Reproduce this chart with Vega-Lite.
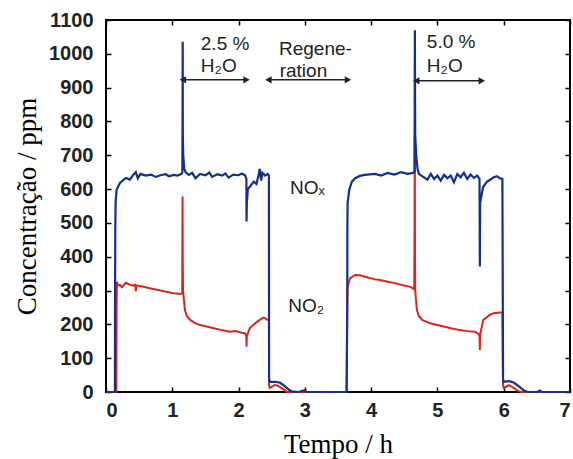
{
  "$schema": "https://vega.github.io/schema/vega-lite/v6.json",
  "width": 464,
  "height": 372,
  "autosize": {"type": "none"},
  "padding": {"left": 106, "top": 20, "right": 3, "bottom": 67},
  "background": "white",
  "config": {
    "view": {"stroke": "black", "strokeWidth": 2},
    "axis": {"domain": false, "grid": false, "tickColor": "black", "tickSize": -5, "tickWidth": 1.5,
      "labelFont": "Liberation Sans", "labelFontWeight": "bold", "labelFontSize": 20, "labelColor": "#222",
      "titleFont": "Liberation Serif", "titleFontWeight": "normal", "titleFontSize": 27, "titleColor": "black"}
  },
  "datasets": {
    "nox": [
      {"t": 0, "v": 0}, {"t": 0.135, "v": 0}, {"t": 0.136, "v": 250}, {"t": 0.14, "v": 480}, {"t": 0.145, "v": 560},
      {"t": 0.16, "v": 598}, {"t": 0.21, "v": 618}, {"t": 0.3, "v": 633}, {"t": 0.36, "v": 628}, {"t": 0.41, "v": 642},
      {"t": 0.45, "v": 650}, {"t": 0.48, "v": 632}, {"t": 0.52, "v": 645}, {"t": 0.6, "v": 640}, {"t": 0.68, "v": 643},
      {"t": 0.75, "v": 636}, {"t": 0.82, "v": 641}, {"t": 0.9, "v": 644}, {"t": 0.95, "v": 638}, {"t": 1.02, "v": 642},
      {"t": 1.08, "v": 640}, {"t": 1.14, "v": 645}, {"t": 1.152, "v": 650}, {"t": 1.155, "v": 800}, {"t": 1.157, "v": 1036},
      {"t": 1.159, "v": 760}, {"t": 1.165, "v": 700}, {"t": 1.18, "v": 660}, {"t": 1.2, "v": 650}, {"t": 1.25, "v": 642},
      {"t": 1.3, "v": 648}, {"t": 1.35, "v": 632}, {"t": 1.42, "v": 645}, {"t": 1.5, "v": 641}, {"t": 1.56, "v": 649},
      {"t": 1.6, "v": 636}, {"t": 1.68, "v": 644}, {"t": 1.75, "v": 640}, {"t": 1.8, "v": 646}, {"t": 1.85, "v": 634},
      {"t": 1.92, "v": 643}, {"t": 2.0, "v": 641}, {"t": 2.05, "v": 646}, {"t": 2.1, "v": 640}, {"t": 2.118, "v": 630},
      {"t": 2.12, "v": 504}, {"t": 2.125, "v": 560}, {"t": 2.14, "v": 600}, {"t": 2.17, "v": 607}, {"t": 2.23, "v": 622},
      {"t": 2.27, "v": 615}, {"t": 2.3, "v": 640}, {"t": 2.32, "v": 660}, {"t": 2.34, "v": 625}, {"t": 2.36, "v": 648},
      {"t": 2.4, "v": 640}, {"t": 2.44, "v": 645}, {"t": 2.458, "v": 640}, {"t": 2.46, "v": 40}, {"t": 2.47, "v": 30},
      {"t": 2.55, "v": 30}, {"t": 2.62, "v": 28}, {"t": 2.68, "v": 20}, {"t": 2.75, "v": 8}, {"t": 2.8, "v": 2},
      {"t": 2.9, "v": 0}, {"t": 3.0, "v": 5}, {"t": 3.02, "v": 0}, {"t": 3.63, "v": 0}, {"t": 3.64, "v": 263},
      {"t": 3.641, "v": 480}, {"t": 3.645, "v": 559}, {"t": 3.67, "v": 598}, {"t": 3.71, "v": 622}, {"t": 3.76, "v": 632},
      {"t": 3.83, "v": 639}, {"t": 3.9, "v": 642}, {"t": 4.06, "v": 645}, {"t": 4.15, "v": 640}, {"t": 4.25, "v": 648},
      {"t": 4.35, "v": 643}, {"t": 4.45, "v": 650}, {"t": 4.55, "v": 645}, {"t": 4.63, "v": 648}, {"t": 4.655, "v": 650},
      {"t": 4.658, "v": 910}, {"t": 4.66, "v": 1070}, {"t": 4.662, "v": 900}, {"t": 4.665, "v": 760}, {"t": 4.68, "v": 700},
      {"t": 4.7, "v": 660}, {"t": 4.72, "v": 645}, {"t": 4.78, "v": 637}, {"t": 4.85, "v": 628}, {"t": 4.9, "v": 645},
      {"t": 4.95, "v": 630}, {"t": 5.0, "v": 640}, {"t": 5.05, "v": 625}, {"t": 5.1, "v": 642}, {"t": 5.15, "v": 632},
      {"t": 5.2, "v": 640}, {"t": 5.25, "v": 620}, {"t": 5.3, "v": 645}, {"t": 5.35, "v": 635}, {"t": 5.4, "v": 648},
      {"t": 5.45, "v": 630}, {"t": 5.5, "v": 643}, {"t": 5.55, "v": 633}, {"t": 5.6, "v": 640}, {"t": 5.635, "v": 630},
      {"t": 5.64, "v": 371}, {"t": 5.645, "v": 560}, {"t": 5.69, "v": 607}, {"t": 5.75, "v": 622}, {"t": 5.79, "v": 627},
      {"t": 5.85, "v": 635}, {"t": 5.9, "v": 638}, {"t": 5.94, "v": 632}, {"t": 5.98, "v": 630}, {"t": 5.99, "v": 40},
      {"t": 6.0, "v": 30}, {"t": 6.08, "v": 32}, {"t": 6.15, "v": 28}, {"t": 6.22, "v": 18}, {"t": 6.3, "v": 5},
      {"t": 6.36, "v": 0}, {"t": 6.5, "v": 0}, {"t": 6.55, "v": 4}, {"t": 6.57, "v": 0}, {"t": 7.0, "v": 0}
    ],
    "no2": [
      {"t": 0, "v": 0}, {"t": 0.155, "v": 0}, {"t": 0.16, "v": 252}, {"t": 0.165, "v": 326}, {"t": 0.18, "v": 315},
      {"t": 0.21, "v": 317}, {"t": 0.24, "v": 310}, {"t": 0.3, "v": 323}, {"t": 0.35, "v": 318}, {"t": 0.4, "v": 315},
      {"t": 0.44, "v": 317}, {"t": 0.45, "v": 298}, {"t": 0.46, "v": 315}, {"t": 0.55, "v": 312}, {"t": 0.66, "v": 307},
      {"t": 0.75, "v": 303}, {"t": 0.89, "v": 297}, {"t": 1.0, "v": 293}, {"t": 1.12, "v": 290}, {"t": 1.15, "v": 292},
      {"t": 1.155, "v": 578}, {"t": 1.158, "v": 385}, {"t": 1.162, "v": 300}, {"t": 1.19, "v": 243}, {"t": 1.22, "v": 225},
      {"t": 1.27, "v": 213}, {"t": 1.35, "v": 203}, {"t": 1.42, "v": 198}, {"t": 1.55, "v": 192}, {"t": 1.64, "v": 188},
      {"t": 1.75, "v": 183}, {"t": 1.87, "v": 178}, {"t": 1.95, "v": 180}, {"t": 2.05, "v": 175}, {"t": 2.1, "v": 173},
      {"t": 2.118, "v": 165}, {"t": 2.12, "v": 134}, {"t": 2.125, "v": 165}, {"t": 2.17, "v": 189}, {"t": 2.25, "v": 203},
      {"t": 2.34, "v": 216}, {"t": 2.38, "v": 220}, {"t": 2.44, "v": 213}, {"t": 2.458, "v": 215}, {"t": 2.46, "v": 20},
      {"t": 2.47, "v": 12}, {"t": 2.55, "v": 21}, {"t": 2.62, "v": 15}, {"t": 2.7, "v": 5}, {"t": 2.73, "v": 0},
      {"t": 3.63, "v": 0}, {"t": 3.64, "v": 267}, {"t": 3.645, "v": 311}, {"t": 3.68, "v": 336}, {"t": 3.76, "v": 346},
      {"t": 3.83, "v": 345}, {"t": 3.91, "v": 341}, {"t": 4.06, "v": 333}, {"t": 4.13, "v": 331}, {"t": 4.25, "v": 326},
      {"t": 4.36, "v": 322}, {"t": 4.45, "v": 317}, {"t": 4.59, "v": 311}, {"t": 4.65, "v": 304}, {"t": 4.655, "v": 480},
      {"t": 4.658, "v": 760}, {"t": 4.662, "v": 400}, {"t": 4.665, "v": 300}, {"t": 4.69, "v": 243}, {"t": 4.72, "v": 225},
      {"t": 4.77, "v": 213}, {"t": 4.89, "v": 203}, {"t": 5.0, "v": 198}, {"t": 5.11, "v": 193}, {"t": 5.22, "v": 188},
      {"t": 5.34, "v": 183}, {"t": 5.45, "v": 180}, {"t": 5.57, "v": 178}, {"t": 5.62, "v": 172}, {"t": 5.635, "v": 165},
      {"t": 5.64, "v": 124}, {"t": 5.645, "v": 170}, {"t": 5.69, "v": 213}, {"t": 5.79, "v": 228}, {"t": 5.85, "v": 233},
      {"t": 5.94, "v": 235}, {"t": 5.98, "v": 235}, {"t": 5.99, "v": 20}, {"t": 6.0, "v": 12}, {"t": 6.08, "v": 20},
      {"t": 6.15, "v": 12}, {"t": 6.22, "v": 3}, {"t": 6.26, "v": 0}, {"t": 7.0, "v": 0}
    ],
    "arrows": [
      {"t1": 1.16, "t2": 2.12, "v": 923},
      {"t1": 2.45, "t2": 3.65, "v": 923},
      {"t1": 4.68, "t2": 5.67, "v": 920}
    ],
    "labels": [
      {"label": "2.5 %", "t": 1.43, "v": 1012},
      {"label": "H₂O", "t": 1.43, "v": 947},
      {"label": "Regene-", "t": 2.61, "v": 997},
      {"label": "ration", "t": 2.62, "v": 932},
      {"label": "5.0 %", "t": 4.84, "v": 1018},
      {"label": "H₂O", "t": 4.84, "v": 947},
      {"label": "NOₓ", "t": 2.775, "v": 586},
      {"label": "NO₂", "t": 2.75, "v": 238}
    ]
  },
  "resolve": {"axis": {"x": "independent", "y": "independent"}},
  "layer": [
    {
      "data": {"name": "no2"},
      "mark": {"type": "line", "color": "#d7261e", "strokeWidth": 2},
      "encoding": {
        "x": {"field": "t", "type": "quantitative", "scale": {"domain": [0, 7], "nice": false},
          "axis": {"orient": "bottom", "values": [0, 1, 2, 3, 4, 5, 6, 7], "format": "d", "title": "Tempo / h", "labelPadding": 13, "titlePadding": 11}},
        "y": {"field": "v", "type": "quantitative", "scale": {"domain": [0, 1100], "nice": false},
          "axis": {"orient": "left", "values": [0, 100, 200, 300, 400, 500, 600, 700, 800, 900, 1000, 1100], "format": "d", "title": "Concentração / ppm", "labelPadding": 18, "titlePadding": 7}}
      }
    },
    {
      "data": {"name": "nox"},
      "mark": {"type": "line", "color": "#12308c", "strokeWidth": 2.2},
      "encoding": {
        "x": {"field": "t", "type": "quantitative", "scale": {"domain": [0, 7], "nice": false}, "axis": null},
        "y": {"field": "v", "type": "quantitative", "scale": {"domain": [0, 1100], "nice": false}, "axis": null}
      }
    },
    {
      "data": {"name": "arrows"},
      "mark": {"type": "rule", "color": "#222", "strokeWidth": 1.5},
      "encoding": {
        "x": {"field": "t1", "type": "quantitative", "scale": {"domain": [0, 7], "nice": false},
          "axis": {"orient": "top", "values": [0, 1, 2, 3, 4, 5, 6, 7], "labels": false, "title": null}},
        "x2": {"field": "t2"},
        "y": {"field": "v", "type": "quantitative", "scale": {"domain": [0, 1100], "nice": false},
          "axis": {"orient": "right", "values": [0, 100, 200, 300, 400, 500, 600, 700, 800, 900, 1000, 1100], "labels": false, "title": null}}
      }
    },
    {
      "data": {"name": "arrows"},
      "mark": {"type": "point", "shape": "triangle-left", "filled": true, "color": "#222", "size": 55, "opacity": 1},
      "encoding": {
        "x": {"field": "t1", "type": "quantitative", "scale": {"domain": [0, 7], "nice": false}, "axis": null},
        "y": {"field": "v", "type": "quantitative", "scale": {"domain": [0, 1100], "nice": false}, "axis": null}
      }
    },
    {
      "data": {"name": "arrows"},
      "mark": {"type": "point", "shape": "triangle-right", "filled": true, "color": "#222", "size": 55, "opacity": 1},
      "encoding": {
        "x": {"field": "t2", "type": "quantitative", "scale": {"domain": [0, 7], "nice": false}, "axis": null},
        "y": {"field": "v", "type": "quantitative", "scale": {"domain": [0, 1100], "nice": false}, "axis": null}
      }
    },
    {
      "data": {"name": "labels"},
      "mark": {"type": "text", "align": "left", "baseline": "alphabetic", "font": "Liberation Sans", "fontSize": 19, "color": "#222"},
      "encoding": {
        "x": {"field": "t", "type": "quantitative", "scale": {"domain": [0, 7], "nice": false}, "axis": null},
        "y": {"field": "v", "type": "quantitative", "scale": {"domain": [0, 1100], "nice": false}, "axis": null},
        "text": {"field": "label"}
      }
    }
  ]
}
